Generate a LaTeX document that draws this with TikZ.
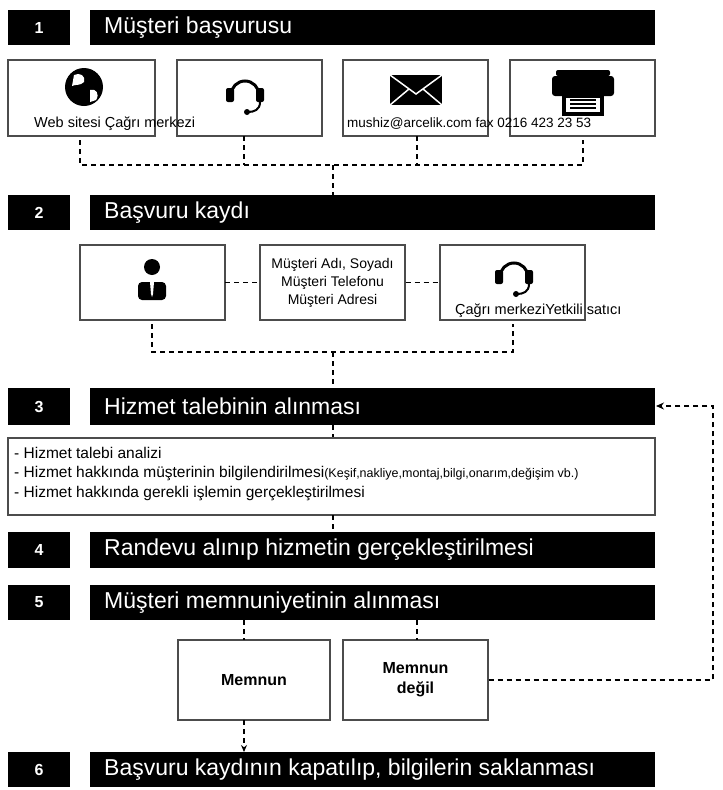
\documentclass[tikz,border=0pt]{standalone}
\usepackage{fontspec}
\setmainfont{Liberation Sans}
\usetikzlibrary{arrows.meta}
\begin{document}
\begin{tikzpicture}[x=1pt,y=-1pt,
 box/.style={draw=black!70,line width=1.2pt,fill=white},
 lab/.style={font=\fontsize{14.5}{16}\selectfont,anchor=west,inner sep=0},
 dsh/.style={line width=1.2pt,dash pattern=on 5pt off 4pt}]
\fill[white] (0,0) rectangle (723,790);
\useasboundingbox (0,0) rectangle (723,790);
% bars
\foreach \n/\a/\b/\t in {1/10/45/{Müşteri başvurusu},2/195/230/{Başvuru kaydı},3/388/425/{Hizmet talebinin alınması},4/532/568/{Randevu alınıp hizmetin gerçekleştirilmesi},5/585/620/{Müşteri memnuniyetinin alınması},6/752/787/{Başvuru kaydının kapatılıp, bilgilerin saklanması}}{
 \fill (8,\a) rectangle (70,\b);
 \node[text=white,font=\bfseries\fontsize{16}{18}\selectfont] (n\n) at (39,{(\a+\b)/2}) {\n};
 \fill (90,\a) rectangle (655,\b);
 \node[text=white,font=\fontsize{23}{25}\selectfont,anchor=west,inner sep=0] (t\n) at (104,{(\a+\b)/2}) {\t};
 \coordinate (top\n) at (333,\a); \coordinate (bot\n) at (333,\b);
}
% row1 boxes
\draw[box] (8,60) rectangle (155,136);
\draw[box] (177,60) rectangle (322,136);
\draw[box] (343,60) rectangle (488,136);
\draw[box] (510,60) rectangle (655,136);
\node[lab] (l1) at (34,124) {Web sitesi Çağrı merkezi};
\node[lab,font=\fontsize{13.5}{16}\selectfont] (l2) at (347,124) {mushiz@arcelik.com fax 0216 423 23 53};
% globe
\fill (84,87) circle (19);
\fill[white] (74,75) .. controls (80,72) and (86,76) .. (84,82) .. controls (80,86) and (76,84) .. (72,86) -- cycle;
\fill[white] (90,90) .. controls (96,88) and (100,94) .. (96,100) -- (90,102) -- cycle;
% headset
\draw[line width=3pt] (231,95) arc[start angle=180,end angle=360,radius=14];
\fill[rounded corners=2pt] (226,88) rectangle (234,102);
\fill[rounded corners=2pt] (256,88) rectangle (264,102);
\draw[line width=2pt] (260,102) .. controls (260,110) and (254,112) .. (248,112);
\fill (247,112) circle (3);
% envelope
\fill (390,75) rectangle (442,105);
\draw[white,line width=1.5pt] (390,75) -- (416,94) -- (442,75) (390,105) -- (409,89) (442,105) -- (423,89);
% printer
\fill[rounded corners=2pt] (556,70) rectangle (610,76);
\fill[rounded corners=3pt] (552,76) rectangle (614,96);
\fill (562,96) rectangle (604,116);
\fill[white] (566,98) rectangle (600,112);
\foreach \yy in {100,104,108} \draw[line width=1.5pt] (570,\yy) -- (596,\yy);
% row1 connectors
\draw[dsh] (80,140) -- (80,165) -- (583,165) -- (583,140);
\draw[dsh] (244,136) -- (244,165);
\draw[dsh] (417,136) -- (417,165);
\draw[dsh] (333,165) -- (top2);
% row2 boxes
\draw[box] (80,245) rectangle (225,320);
\node[box,minimum width=145pt,minimum height=75pt,inner sep=1pt,align=center,font=\fontsize{14}{18}\selectfont] (info) at (332.5,282.5) {Müşteri Adı, Soyadı\\Müşteri Telefonu\\Müşteri Adresi};
\draw[box] (440,245) rectangle (585,320);
\node[lab] (l3) at (455,311) {Çağrı merkeziYetkili satıcı};
% person
\fill (152,267) circle (8);
\fill[rounded corners=4pt] (138,300) -- (138,282) -- (166,282) -- (166,300) -- cycle;
\fill[white] (150,282) -- (154,282) -- (153,294) -- (152,297) -- (151,294) -- cycle;
% headset 2
\draw[line width=3pt] (500,277) arc[start angle=180,end angle=360,radius=14];
\fill[rounded corners=2pt] (495,270) rectangle (503,284);
\fill[rounded corners=2pt] (525,270) rectangle (533,284);
\draw[line width=2pt] (529,284) .. controls (529,292) and (523,294) .. (517,294);
\fill (516,294) circle (3);
\draw[dsh] (225,282.5) -- (info.west);
\draw[dsh] (info.east) -- (440,282.5);
\draw[dsh] (152,324) -- (152,352) -- (513,352) -- (513,324);
\draw[dsh] (333,352) -- (top3);
% row3
\draw[dsh] (bot3) -- (333,438);
\draw[box] (8,438) rectangle (655,515);
\node[anchor=north west,align=left,inner sep=0,font=\fontsize{15.5}{19.5}\selectfont] (txt) at (14,447) {- Hizmet talebi analizi\\- Hizmet hakkında müşterinin bilgilendirilmesi{\fontsize{12.5}{14}\selectfont(Keşif,nakliye,montaj,bilgi,onarım,değişim vb.)}\\- Hizmet hakkında gerekli işlemin gerçekleştirilmesi};
\draw[dsh] (333,515) -- (top4);
% row5
\node[box,minimum width=152pt,minimum height=80pt,font=\bfseries\fontsize{16}{18}\selectfont] (m1) at (254,680) {Memnun};
\node[box,minimum width=145pt,minimum height=80pt,align=center,font=\bfseries\fontsize{16}{20}\selectfont] (m2) at (415.5,680) {Memnun\\değil};
\draw[dsh] (244,620) -- (244,640);
\draw[dsh] (417,620) -- (417,640);
\draw[dsh,-{Stealth[length=7pt,width=6pt]}] (244,720) -- (244,752);
\coordinate (c1) at (713,680); \coordinate (c2) at (713,406);
\draw[dsh,-{Stealth[length=8pt,width=7pt]}] (m2.east) -- (c1) -- (c2) -- (656,406);
\end{tikzpicture}
\end{document}
